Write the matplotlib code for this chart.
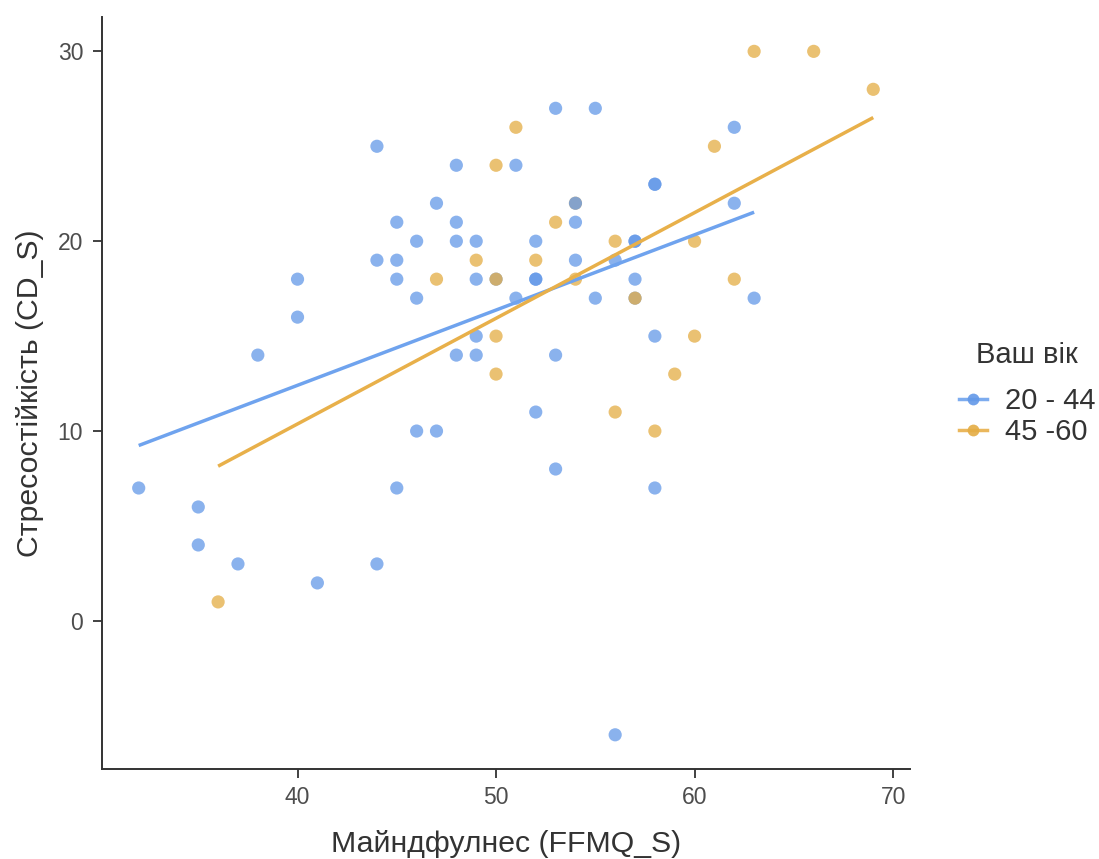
import numpy as np
import matplotlib
matplotlib.use("Agg")
import matplotlib.pyplot as plt
from matplotlib.lines import Line2D

plt.rcParams['font.family'] = ['Liberation Sans', 'DejaVu Sans']

# Survey responses: mindfulness score, stress resilience score, age group
mindfulness = [32, 35, 35, 37, 38, 40, 40, 41, 44, 44, 44, 45, 45, 45, 45,
               46, 46, 46, 47, 47, 48, 48, 48, 48, 49, 49, 49, 49, 50, 51,
               51, 52, 52, 52, 52, 53, 53, 53, 54, 54, 54, 55, 55, 56, 56,
               57, 57, 57, 57, 58, 58, 58, 58, 62, 62, 63,
               36, 47, 49, 50, 50, 50, 50, 51, 52, 53, 54, 54, 56, 56, 57,
               58, 59, 60, 60, 61, 62, 63, 66, 69]
resilience = [7, 6, 4, 3, 14, 18, 16, 2, 25, 19, 3, 21, 19, 18, 7,
              20, 17, 10, 22, 10, 24, 21, 20, 14, 20, 18, 15, 14, 18, 24,
              17, 20, 18, 18, 11, 27, 14, 8, 22, 21, 19, 27, 17, 19, -6,
              20, 20, 18, 17, 23, 23, 15, 7, 26, 22, 17,
              1, 18, 19, 24, 18, 15, 13, 26, 19, 21, 22, 18, 20, 11, 17,
              10, 13, 20, 15, 25, 18, 30, 30, 28]
age_group = ["20 - 44"] * 56 + ["45 -60"] * 24

# Drawing order of the rows (later rows sit on top): the 57/17 older
# respondent goes first, then the younger group, then the rest of the older
front_orange = [i for i in range(56, 80) if i != 66]
order = [66] + list(range(0, 56)) + front_orange

groups = ["20 - 44", "45 -60"]
colors = {"20 - 44": "#6398e8", "45 -60": "#e4ac43"}
line_colors = {"20 - 44": "#6fa3ee", "45 -60": "#e8b04a"}

x = np.array(mindfulness, dtype=float)
y = np.array(resilience, dtype=float)
g = np.array(age_group)

fig = plt.figure(figsize=(10.99, 8.59), dpi=100)
ax = fig.add_axes([0.0928, 0.1048, 0.7352, 0.8752])

ax.scatter(x[order], y[order], s=90, c=[colors[v] for v in g[order]],
           alpha=0.75, linewidths=0, zorder=2)

for grp in groups:
    m = g == grp
    slope, icpt = np.polyfit(x[m], y[m], 1)
    xs = np.array([x[m].min(), x[m].max()])
    ax.plot(xs, slope * xs + icpt, color=line_colors[grp], lw=2.5,
            zorder=3, solid_capstyle='butt')

ax.set_xlim(30.15, 70.85)
ax.set_ylim(-7.8, 31.8)
ax.set_xticks([40, 50, 60, 70])
ax.set_yticks([0, 10, 20, 30])

for side in ("top", "right"):
    ax.spines[side].set_visible(False)
for side in ("left", "bottom"):
    ax.spines[side].set_color("#333333")
    ax.spines[side].set_linewidth(1.4)
ax.tick_params(axis="both", colors="#333333", width=1.3, length=6.5,
               labelsize=16.5, labelcolor="#4d4d4d")
ax.tick_params(axis="x", pad=6)
ax.tick_params(axis="y", pad=7)

ax.set_xlabel("Майндфулнес (FFMQ_S)", fontsize=21.8, color="#333333", labelpad=15)
ax.set_ylabel("Стресостійкість (CD_S)", fontsize=21.8, color="#333333", labelpad=10)

handles = [Line2D([0], [0], color=line_colors[grp], lw=2.5, marker="o",
                  markersize=8.5, markerfacecolor=colors[grp],
                  markeredgewidth=0, alpha=0.9) for grp in groups]
leg = fig.legend(handles, groups, loc="center left",
                 bbox_to_anchor=(0.862, 0.515), frameon=False, fontsize=21,
                 handlelength=0.96, handletextpad=0.62,
                 labelspacing=0.08, borderaxespad=0)
for t in leg.get_texts():
    t.set_color("#333333")
fig.text(0.9345, 1 - 355 / 859, "Ваш вік", fontsize=21, color="#333333",
         ha="center", va="center")

fig.savefig("out.png", dpi=100, facecolor="white")
